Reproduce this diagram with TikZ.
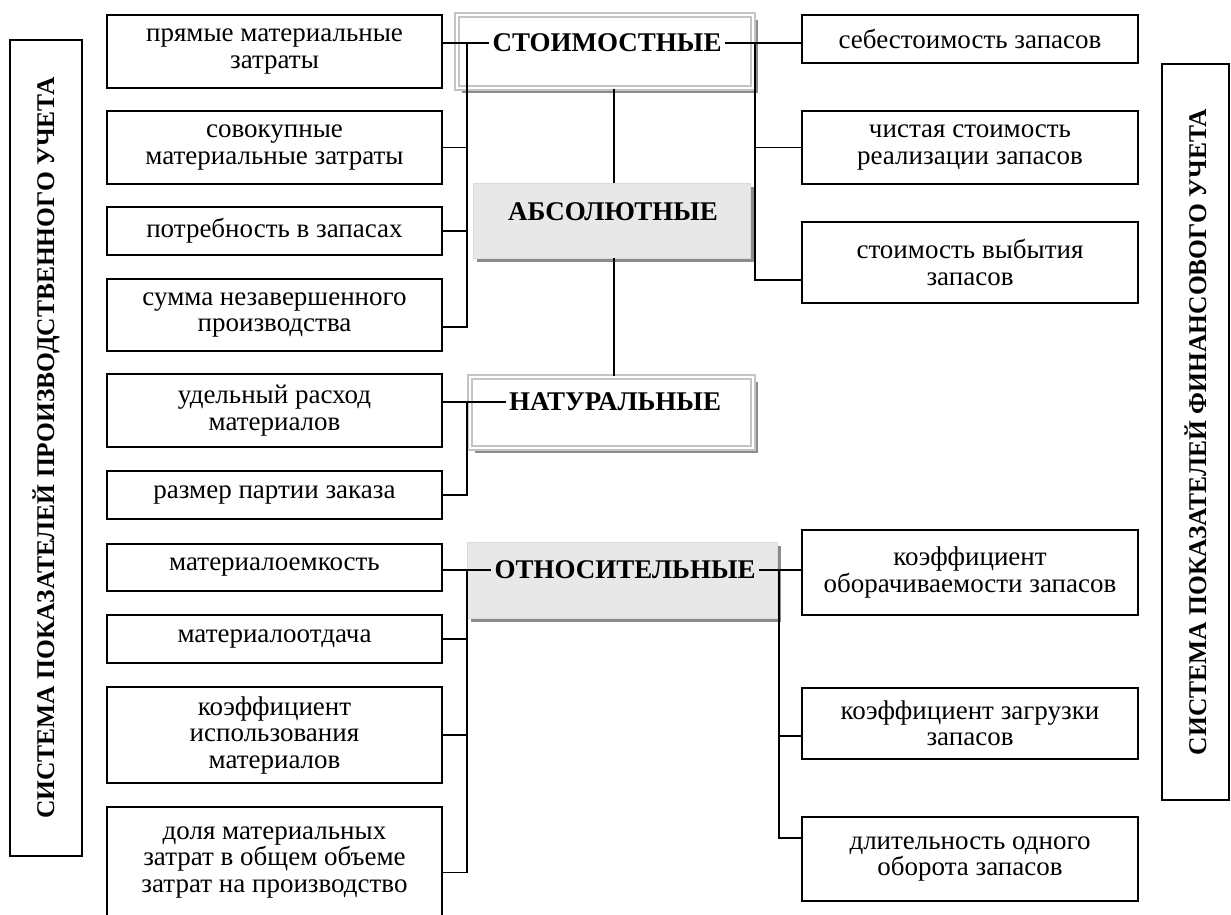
\documentclass[tikz,border=0pt]{standalone}
\usepackage{fontspec}
\setmainfont{Liberation Serif}
\usetikzlibrary{shadows}
\definecolor{boxgray}{HTML}{E8E8E8}
\definecolor{boxedge}{HTML}{DADADA}
\definecolor{shadegray}{HTML}{8C8C8C}
\definecolor{framegray}{HTML}{C4C4C4}
\newcommand\itemfont{\fontsize{27}{26.5}\selectfont}
\newcommand\headfont{\fontsize{27}{28}\selectfont\bfseries}
\newcommand\sysfont{\fontsize{25.5}{27}\selectfont\bfseries}

\begin{document}
\begin{tikzpicture}[x=1pt,y=-1pt,
  item/.style={draw, line width=1.5pt, fill=white, align=center, font=\itemfont,
    inner sep=2pt, minimum width=335pt},
  ritem/.style={item, minimum width=336pt},
  conn/.style={line width=1.5pt},
  sysbox/.style={draw, line width=1.5pt, rotate=90, font=\sysfont, inner sep=0pt},
  framebox/.style={draw=framegray, line width=1.4pt, double=white, double distance=2.6pt,
    fill=white, inner sep=0pt,
    drop shadow={shadow xshift=5pt, shadow yshift=-5pt, fill=shadegray, opacity=1}},
  greybox/.style={draw=boxedge, line width=0.8pt, fill=boxgray, inner sep=0pt,
    drop shadow={shadow xshift=4pt, shadow yshift=-4pt, fill=shadegray, opacity=1}},
  head/.style={font=\headfont, inner sep=3pt},
]
\clip (0,0) rectangle (1231,915);

% outer system frames
\node[sysbox, minimum width=816pt, minimum height=72pt] (prodsys) at (46,448)
  {СИСТЕМА ПОКАЗАТЕЛЕЙ ПРОИЗВОДСТВЕННОГО УЧЕТА};
\node[sysbox, minimum width=736pt, minimum height=67pt] (finsys) at (1195.5,432)
  {СИСТЕМА ПОКАЗАТЕЛЕЙ ФИНАНСОВОГО УЧЕТА};

% left column
\node[item, minimum height=73pt] (b1) at (274.5,51.5) {прямые материальные\\затраты};
\node[item, minimum height=73pt] (b2) at (274.5,147.5) {совокупные\\материальные затраты};
\node[item, minimum height=48pt] (b3) at (274.5,231) {потребность в запасах};
\node[item, minimum height=72pt] (b4) at (274.5,315) {сумма незавершенного\\производства};
\node[item, minimum height=73pt] (b5) at (274.5,410.5) {удельный расход\\материалов};
\node[item, minimum height=48pt] (b6) at (274.5,495) {размер партии заказа};
\node[item, minimum height=47pt] (b7) at (274.5,567.5) {материалоемкость};
\node[item, minimum height=48pt] (b8) at (274.5,639) {материалоотдача};
\node[item, minimum height=96pt] (b9) at (274.5,735) {коэффициент\\использования\\материалов};
\node[item, minimum height=111pt] (b10) at (274.5,862.5) {доля материальных\\затрат в общем объеме\\затрат на производство};

% right column
\node[ritem, minimum height=48pt] (r1) at (970,39) {себестоимость запасов};
\node[ritem, minimum height=73pt] (r2) at (970,147.5) {чистая стоимость\\реализации запасов};
\node[ritem, minimum height=81pt] (r3) at (970,262.5) {стоимость выбытия\\запасов};
\node[ritem, minimum height=85pt] (r4) at (970,572.5) {коэффициент\\оборачиваемости запасов};
\node[ritem, minimum height=71pt] (r5) at (970,723.5) {коэффициент загрузки\\запасов};
\node[ritem, minimum height=84pt] (r6) at (970,859) {длительность одного\\оборота запасов};

% central group boxes
\node[framebox, minimum width=296pt, minimum height=73pt] (st) at (605,51.5) {};
\node[greybox, minimum width=277pt, minimum height=75pt] (abs) at (611.5,220.5) {};
\node[framebox, minimum width=283pt, minimum height=71pt] (nat) at (611.5,412.5) {};
\node[greybox, minimum width=310pt, minimum height=76pt] (ot) at (622,580) {};

% bus lines
\coordinate (lbus) at (467,0);
\coordinate (rbusA) at (755,0);
\coordinate (rbusB) at (779,0);
\coordinate (cbus) at (614,0);

% group titles
\node[head] (stT) at (607,43) {СТОИМОСТНЫЕ};
\node[head] (absT) at (613,212) {АБСОЛЮТНЫЕ};
\node[head] (natT) at (615,402) {НАТУРАЛЬНЫЕ};
\node[head] (otT) at (625,570) {ОТНОСИТЕЛЬНЫЕ};

% connector end points off the box centres
\coordinate (b4p) at ([yshift=-12pt]b4.east);
\coordinate (b10p) at ([yshift=-10pt]b10.east);
\coordinate (r3p) at ([yshift=-17.5pt]r3.west);
\coordinate (r5p) at ([yshift=-12.5pt]r5.west);
\coordinate (r6p) at ([yshift=21pt]r6.west);

% cost indicators
\draw[conn] (b1.east |- stT.west) -- (stT.west);
\draw[conn] (stT.west -| lbus) -- (b4p -| lbus) -- (b4p);
\draw[conn] (b2.east) -- (b2.east -| lbus);
\draw[conn] (b3.east) -- (b3.east -| lbus);
\draw[conn] (stT.east) -- (r1.west |- stT.east);
\draw[conn] (stT.east -| rbusA) -- (r3p -| rbusA) -- (r3p);
\draw[conn] (r2.west -| rbusA) -- (r2.west);

% absolute group spine
\draw[conn] (st.south -| cbus) -- (abs.north -| cbus);
\draw[conn] (abs.south -| cbus) -- (nat.north -| cbus);

% natural indicators
\draw[conn] (b5.east |- natT.west) -- (natT.west);
\draw[conn] (natT.west -| lbus) |- (b6.east);

% relative indicators
\draw[conn] (b7.east |- otT.west) -- (otT.west);
\draw[conn] (otT.west -| lbus) |- (b10p);
\draw[conn] (b8.east) -- (b8.east -| lbus);
\draw[conn] (b9.east) -- (b9.east -| lbus);
\draw[conn] (otT.east) -- (r4.west |- otT.east);
\draw[conn] (otT.east -| rbusB) |- (r6p);
\draw[conn] (r5p) -- (r5p -| rbusB);
\end{tikzpicture}
\end{document}
